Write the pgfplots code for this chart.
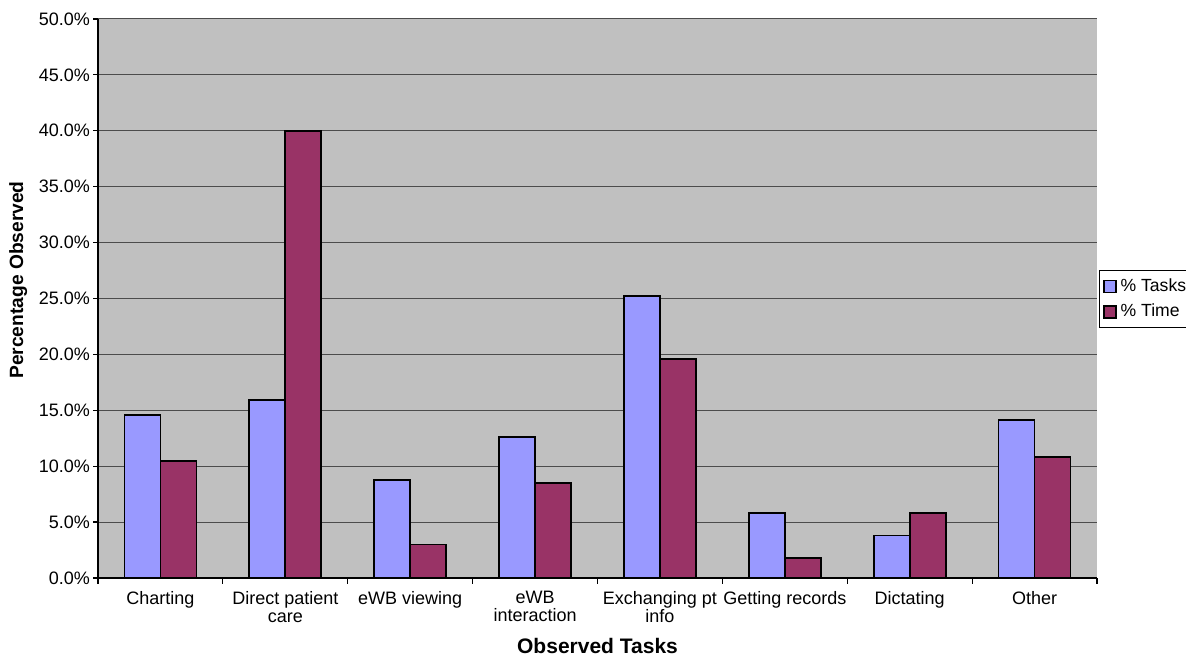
\documentclass[border=0pt]{standalone}
\usepackage{pgfplots}
\pgfplotsset{compat=1.18}
\usepackage{fontspec}
\setmainfont{Liberation Sans}

\definecolor{tasks}{HTML}{9999FF}
\definecolor{timec}{HTML}{993366}
\definecolor{plotbg}{HTML}{C0C0C0}

\begin{document}
\begin{tikzpicture}
\begin{axis}[
    at={(49pt,39pt)}, anchor=south west,
    scale only axis,
    width=499.5pt, height=279.5pt,
    /pgf/number format/assume math mode=true,
    font=\fontsize{9}{9}\selectfont,
    axis background/.style={fill=plotbg},
    axis x line*=bottom, axis y line*=left,
    axis line style={black, line width=0.6pt},
    ybar=0pt, bar width=18pt,
    xmin=-0.5, xmax=7.5,
    ymin=0, ymax=50,
    xtick={0,...,7},
    xticklabels={Charting, {Direct patient\\care}, eWB viewing, {eWB\\interaction}, {Exchanging pt\\info}, Getting records, Dictating, Other},
    xticklabel style={align=center, text depth=0pt, yshift=-0.5pt},
    yticklabel style={xshift=2pt},
    major x tick style={draw=none},
    minor xtick={-0.5,0.5,...,7.5},
    minor x tick style={black, line width=0.6pt},
    tick align=outside,
    major tick length=2.5pt, minor tick length=3pt,
    ytick={0,5,...,50},
    yticklabel={\pgfmathprintnumber[fixed,fixed zerofill,precision=1]{\tick}\%},
    ymajorgrids,
    grid style={black!70, line width=0.5pt},
    y tick style={black, line width=0.6pt},
    xlabel={\bfseries\fontsize{10.5}{12}\selectfont Observed Tasks},
    ylabel={\bfseries\fontsize{9.6}{11}\selectfont Percentage Observed},
    xlabel style={at={(axis description cs:0.5,-0.122)}, anchor=center},
    ylabel style={at={(axis description cs:-0.080,0.533)}, anchor=center},
    legend style={at={(1.002,0.551)}, anchor=north west, draw=black, line width=0.4pt,
        fill=white, font=\fontsize{8.8}{10}\selectfont, row sep=1pt, inner sep=2pt},
    legend cell align=left,
    legend image code/.code={\draw[#1, draw=black, line width=0.6pt] (0pt,-3pt) rectangle (6pt,3pt);},
]
\addplot[fill=tasks, draw=black, line width=0.9pt] coordinates {
    (0,14.6) (1,15.9) (2,8.8) (3,12.6) (4,25.2) (5,5.8) (6,3.8) (7,14.1)};
\addplot[fill=timec, draw=black, line width=0.9pt] coordinates {
    (0,10.5) (1,40.0) (2,3.0) (3,8.5) (4,19.6) (5,1.8) (6,5.8) (7,10.8)};
\legend{\% Tasks, \% Time}
\end{axis}
\pgfresetboundingbox
\useasboundingbox (0,0) rectangle (593pt,328pt);
\end{tikzpicture}
\end{document}
